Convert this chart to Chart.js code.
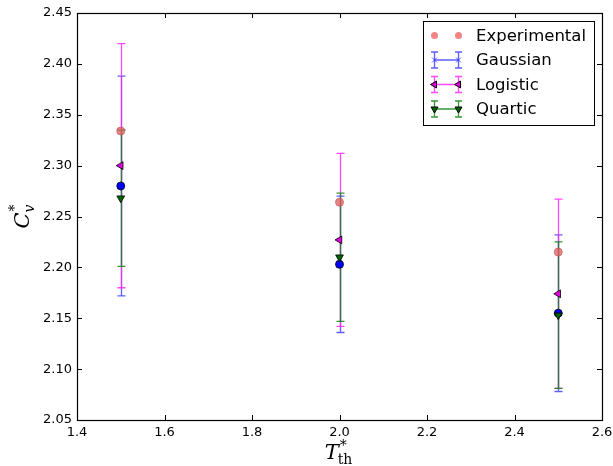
<!DOCTYPE html>
<html>
<head>
<meta charset="utf-8">
<script src="https://cdn.jsdelivr.net/npm/chart.js@4.4.1/dist/chart.umd.min.js"></script>
<style>
  html, body { margin: 0; padding: 0; background: #fff; }
  canvas { display: block; }
</style>
</head>
<body>
<canvas id="c" width="613" height="466"></canvas>
<script>
// temperatures and heat capacities
const temps = [1.5, 2.0, 2.5];
const experimental = [2.334, 2.264, 2.215];
const gaussian = [2.280, 2.203, 2.155];
const gaussianErr = [0.108, 0.067, 0.077];
const logistic = [2.300, 2.227, 2.174];
const logisticErr = [0.120, 0.085, 0.093];
const quartic = [2.268, 2.210, 2.153];
const quarticErr = [0.067, 0.063, 0.072];
const xTicks = [1.4, 1.6, 1.8, 2.0, 2.2, 2.4, 2.6];
const yTicks = [2.05, 2.10, 2.15, 2.20, 2.25, 2.30, 2.35, 2.40, 2.45];

const pts = arr => temps.map((t, i) => ({ x: t, y: arr[i] }));
const tickFont = { family: 'DejaVu Sans', size: 13 };

// matplotlib style errorbars, drawn under the markers
const errorBars = {
  id: 'errorBars',
  beforeDatasetsDraw(chart) {
    const { ctx, scales: { x, y } } = chart;
    chart.data.datasets.forEach(ds => {
      if (!ds.errors) return;
      ctx.save();
      ctx.strokeStyle = ds.errorColor;
      ctx.lineWidth = 1.3;
      ds.data.forEach((p, j) => {
        const px = Math.round(x.getPixelForValue(p.x)) + 0.5;
        const top = y.getPixelForValue(p.y + ds.errors[j]);
        const bot = y.getPixelForValue(p.y - ds.errors[j]);
        ctx.beginPath();
        ctx.moveTo(px, top); ctx.lineTo(px, bot);
        ctx.moveTo(px - 4, top); ctx.lineTo(px + 4, top);
        ctx.moveTo(px - 4, bot); ctx.lineTo(px + 4, bot);
        ctx.stroke();
      });
      ctx.restore();
    });
  }
};

// box + inward ticks on all four sides
const frame = {
  id: 'frame',
  afterDraw(chart) {
    const { ctx, chartArea: a, scales: { x, y } } = chart;
    ctx.save();
    ctx.strokeStyle = '#000';
    ctx.lineWidth = 1;
    ctx.beginPath();
    x.ticks.forEach(t => {
      const px = Math.round(x.getPixelForValue(t.value)) + 0.5;
      ctx.moveTo(px, a.bottom); ctx.lineTo(px, a.bottom - 5);
      ctx.moveTo(px, a.top); ctx.lineTo(px, a.top + 5);
    });
    y.ticks.forEach(t => {
      const py = Math.round(y.getPixelForValue(t.value)) + 0.5;
      ctx.moveTo(a.left, py); ctx.lineTo(a.left + 5, py);
      ctx.moveTo(a.right, py); ctx.lineTo(a.right - 5, py);
    });
    ctx.stroke();
    ctx.lineWidth = 1.2;
    ctx.strokeRect(Math.round(a.left) + 0.5, Math.round(a.top) + 0.5, Math.round(a.right - a.left), Math.round(a.bottom - a.top));
    ctx.restore();
  }
};

// axis titles with sub/superscripts
const axisTitles = {
  id: 'axisTitles',
  afterDraw(chart) {
    const { ctx, chartArea: a } = chart;
    ctx.save();
    ctx.fillStyle = '#000';
    ctx.textBaseline = 'alphabetic';
    // x: T_th^*
    const big = 'italic 21px "DejaVu Serif"', small = '14px "DejaVu Serif"';
    ctx.font = big; const wT = ctx.measureText('T').width;
    ctx.font = small; const wth = ctx.measureText('th').width;
    let x0 = (a.left + a.right) / 2 - (wT + wth + 1) / 2;
    const base = 459;
    ctx.font = big; ctx.fillText('T', x0, base);
    ctx.font = small; ctx.fillText('th', x0 + wT - 1, base + 5);
    ctx.fillText('*', x0 + wT + 1, base - 9);
    // y: C_v^*
    ctx.translate(29, (a.top + a.bottom) / 2);
    ctx.rotate(-Math.PI / 2);
    ctx.font = big; const wC = ctx.measureText('C').width;
    ctx.font = 'italic 14px "DejaVu Serif"'; const wv = ctx.measureText('v').width;
    x0 = -(wC + wv) / 2;
    ctx.font = big; ctx.fillText('C', x0, 0);
    ctx.font = 'italic 14px "DejaVu Serif"'; ctx.fillText('v', x0 + wC, 5);
    ctx.font = small; ctx.fillText('*', x0 + wC + 1, -10);
    ctx.restore();
  }
};

// legend box in the upper right corner
const legendBox = {
  id: 'legendBox',
  afterDraw(chart) {
    const { ctx } = chart;
    const bx = 423, by = 21, bw = 171, bh = 104;
    ctx.save();
    ctx.fillStyle = '#fff';
    ctx.fillRect(bx, by, bw, bh);
    ctx.strokeStyle = '#000';
    ctx.lineWidth = 1;
    ctx.strokeRect(bx + 0.5, by + 0.5, bw, bh);
    const rows = [35.5, 60, 84.5, 109];
    const x1 = 434, x2 = 458;
    chart.data.datasets.forEach((ds, i) => {
      const ry = rows[i];
      if (ds.errors) {
        ctx.strokeStyle = ds.errorColor;
        ctx.lineWidth = 1.3;
        ctx.beginPath();
        ctx.moveTo(x1, ry); ctx.lineTo(x2, ry);
        [x1, x2].forEach(cx => { ctx.moveTo(cx + 0.5, ry - 8); ctx.lineTo(cx + 0.5, ry + 8); ctx.moveTo(cx - 3, ry - 8); ctx.lineTo(cx + 4, ry - 8); ctx.moveTo(cx - 3, ry + 8); ctx.lineTo(cx + 4, ry + 8); });
        ctx.stroke();
        [x1, x2].forEach(cx => {
          ctx.fillStyle = ds.legendFill || ds.backgroundColor;
          ctx.strokeStyle = ds.legendStyle ? ds.errorColor : ds.borderColor;
          ctx.lineWidth = 1;
          Chart.helpers.drawPoint(ctx, { pointStyle: ds.legendStyle || ds.pointStyle, rotation: ds.rotation || 0, radius: ds.legendStyle ? 3.5 : 4, borderWidth: 1 }, cx + 0.5, ry);
        });
      } else {
        ctx.fillStyle = 'rgba(240,120,120,0.9)';
        [x1, x2].forEach(cx => { ctx.beginPath(); ctx.arc(cx + 0.5, ry, 3.5, 0, Math.PI * 2); ctx.fill(); });
      }
      ctx.fillStyle = '#000';
      ctx.font = '16.5px "DejaVu Sans"';
      ctx.textBaseline = 'middle';
      ctx.fillText(ds.label, 476, ry + 1);
    });
    ctx.restore();
  }
};

new Chart(document.getElementById('c'), {
  type: 'scatter',
  data: {
    datasets: [
      { label: 'Experimental', data: pts(experimental), pointStyle: 'circle', radius: 4,
        backgroundColor: 'rgba(225,95,95,0.75)', borderColor: 'rgba(190,80,80,0.8)', borderWidth: 0.8, order: 1 },
      { label: 'Gaussian', data: pts(gaussian), errors: gaussianErr, errorColor: 'rgba(40,40,255,0.75)',
        pointStyle: 'circle', legendStyle: 'crossRot', radius: 4, backgroundColor: '#0000ff', borderColor: '#000', borderWidth: 0.8, order: 4 },
      { label: 'Logistic', data: pts(logistic), errors: logisticErr, errorColor: 'rgba(255,40,255,0.85)',
        pointStyle: 'triangle', rotation: 270, radius: 4.5, backgroundColor: '#dd00dd', borderColor: '#000', borderWidth: 0.8, order: 3 },
      { label: 'Quartic', data: pts(quartic), errors: quarticErr, errorColor: 'rgba(20,130,20,0.85)',
        pointStyle: 'triangle', rotation: 180, radius: 4.5, backgroundColor: '#006400', borderColor: '#000', borderWidth: 0.8, order: 2 }
    ]
  },
  options: {
    responsive: false,
    animation: false,
    layout: { padding: { top: 13, right: 11, left: 0, bottom: 0 } },
    plugins: { legend: { display: false }, tooltip: { enabled: false } },
    scales: {
      x: {
        type: 'linear', min: 1.4, max: 2.6,
        afterBuildTicks: s => { s.ticks = xTicks.map(v => ({ value: v })); },
        afterFit: s => { s.height = 46; s.paddingLeft = 0; s.paddingRight = 0; },
        ticks: { callback: v => v.toFixed(1), font: tickFont, color: '#000', padding: 5, maxRotation: 0, autoSkip: false },
        grid: { display: false, drawTicks: false },
        border: { display: false }
      },
      y: {
        type: 'linear', min: 2.05, max: 2.45,
        afterBuildTicks: s => { s.ticks = yTicks.map(v => ({ value: v })); },
        afterFit: s => { s.width = 77; s.paddingTop = 0; s.paddingBottom = 0; },
        ticks: { callback: v => v.toFixed(2), font: tickFont, color: '#000', padding: 5, autoSkip: false },
        grid: { display: false, drawTicks: false },
        border: { display: false }
      }
    }
  },
  plugins: [errorBars, frame, axisTitles, legendBox]
});
</script>
</body>
</html>
